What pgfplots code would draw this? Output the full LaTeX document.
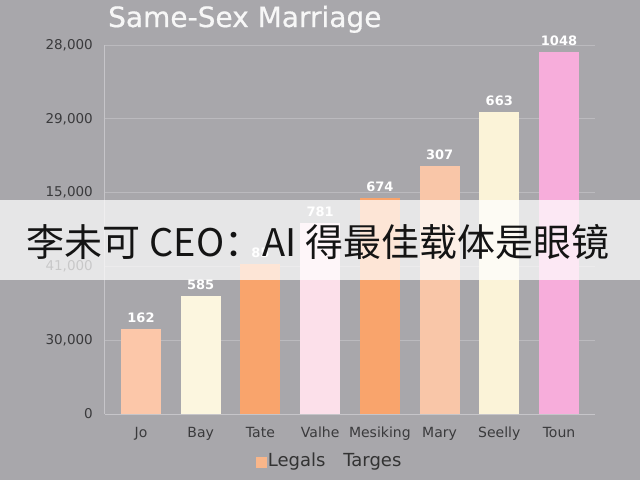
\documentclass[border=0pt]{standalone}
\usepackage{pgfplots}
\pgfplotsset{compat=1.18}
\usepackage{fontspec}
\setmainfont{DejaVu Sans}
\newfontfamily\titlefont{DejaVu Sans}[FakeBold=0.6]
\newfontfamily\cjk{Noto Sans CJK SC}

\definecolor{bg}{HTML}{A8A7AB}
\definecolor{gridc}{HTML}{BBBABE}
\definecolor{axisc}{HTML}{C6C5C9}
\definecolor{tickc}{HTML}{3A3A3C}
\definecolor{peach}{HTML}{FCC7A9}
\definecolor{cream}{HTML}{FCF6DF}
\definecolor{orange}{HTML}{F9A46C}
\definecolor{lpink}{HTML}{FCE0EA}
\definecolor{peach2}{HTML}{F9C6A8}
\definecolor{cream2}{HTML}{FBF3D8}
\definecolor{pink}{HTML}{F7ADDB}
\definecolor{legorange}{HTML}{F9B68A}

\begin{document}
\begin{tikzpicture}
% background of the whole picture, 640 x 480
\fill[bg] (-105bp,-66bp) rectangle (535bp,414bp);

\begin{axis}[
    at={(0,0)}, anchor=south west,
    scale only axis,
    width=490bp, height=369bp,
    xmin=-0.603, xmax=7.603,
    ymin=0, ymax=5,
    clip=false,
    axis x line*=bottom, axis y line*=left,
    axis line style={draw=axisc, line width=1bp},
    major tick length=0pt,
    xtick={0,...,7},
    xticklabels={Jo,Bay,Tate,Valhe,Mesiking,Mary,Seelly,Toun},
    ytick={0,...,5},
    yticklabels={0,{30,000},{41,000},{15,000},{29,000},{28,000}},
    /pgf/number format/assume math mode=true,
    xticklabel style={font=\fontsize{14bp}{16bp}\selectfont, text=tickc, anchor=north, inner sep=0pt, yshift=-13bp},
    yticklabel style={font=\fontsize{13.5bp}{15bp}\selectfont, text=tickc, anchor=east, inner sep=0pt, xshift=-12bp},
    ymajorgrids,
    grid style={draw=gridc, line width=0.8bp},
    title={Same-Sex Marriage},
    title style={at={(0.006,1.0325)}, anchor=base west, inner sep=0pt,
        font=\titlefont\fontsize{28bp}{32bp}\selectfont, text=white!97!black},
    legend columns=2,
    legend style={at={(0.458,-0.13)}, anchor=center, draw=none, fill=none,
        font=\fontsize{18bp}{20bp}\selectfont, text=black!80,
        /tikz/every even column/.append style={column sep=15bp},
        nodes={inner sep=1.5bp, text height=13bp, text depth=4bp}},
    nodes near coords,
    point meta=explicit symbolic,
    every node near coord/.append style={font=\bfseries\fontsize{13bp}{15bp}\selectfont,
        text=white, inner sep=0pt, yshift=6bp},
]

\addlegendimage{legend image code/.code={\fill[legorange] (0bp,-5bp) rectangle (10bp,5bp);}}
\addlegendimage{legend image code/.code={\path[draw=none, fill=none] (0bp,-5bp) rectangle (0bp,5bp);}}
\legend{Legals, Targes}

\addplot[ybar, bar width=40bp, bar shift=0pt, fill=peach, draw=none]
    coordinates {(0,1.15) [162]};
\addplot[ybar, bar width=40bp, bar shift=0pt, fill=cream, draw=none]
    coordinates {(1,1.60) [585]};
\addplot[ybar, bar width=40bp, bar shift=0pt, fill=orange, draw=none]
    coordinates {(2,2.03) [85]};
\addplot[ybar, bar width=40bp, bar shift=0pt, fill=lpink, draw=none]
    coordinates {(3,2.59) [781]};
\addplot[ybar, bar width=40bp, bar shift=0pt, fill=orange, draw=none]
    coordinates {(4,2.93) [674]};
\addplot[ybar, bar width=40bp, bar shift=0pt, fill=peach2, draw=none]
    coordinates {(5,3.36) [307]};
\addplot[ybar, bar width=40bp, bar shift=0pt, fill=cream2, draw=none]
    coordinates {(6,4.09) [663]};
\addplot[ybar, bar width=40bp, bar shift=0pt, fill=pink, draw=none]
    coordinates {(7,4.91) [1048]};
\end{axis}

% caption banner laid over the chart
\fill[white, opacity=0.72] (-105bp,134bp) rectangle (535bp,214bp);
\node[anchor=center, inner sep=0pt, text=black!92] at (213bp,172bp)
    {\cjk\fontsize{38bp}{42bp}\selectfont 李未可 CEO：AI 得最佳载体是眼镜};
\end{tikzpicture}
\end{document}
